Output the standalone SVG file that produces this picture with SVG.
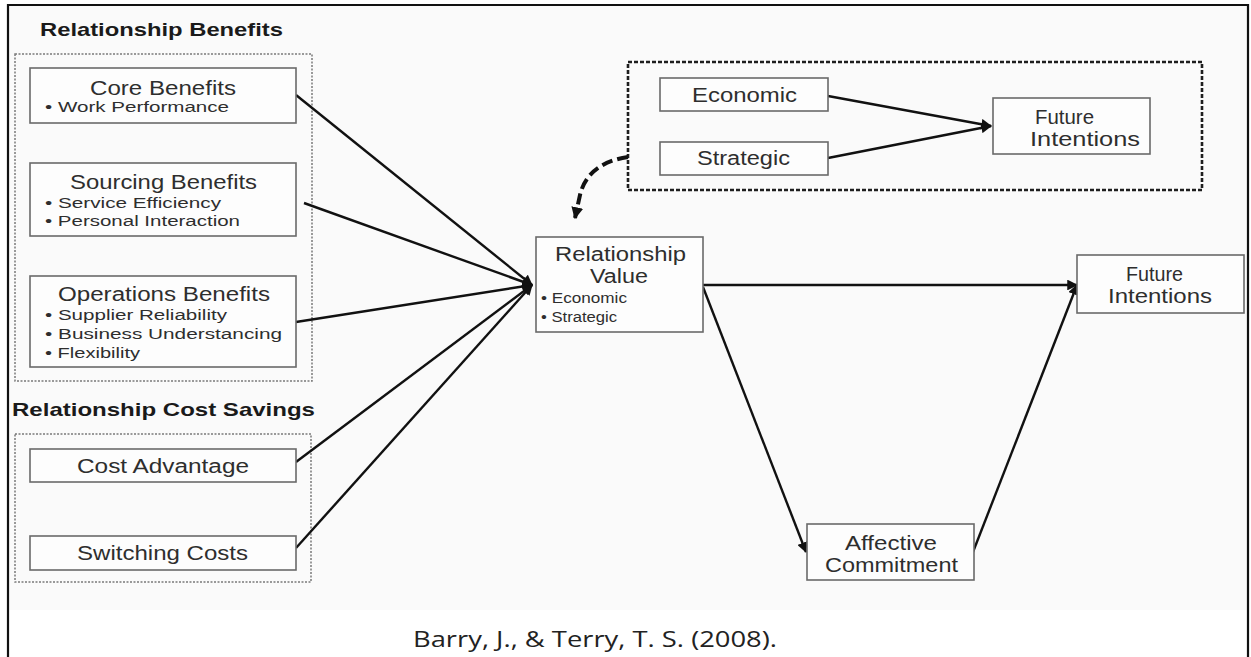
<svg xmlns="http://www.w3.org/2000/svg" width="1251" height="657" viewBox="0 0 1251 657">
  <style>
    text { font-family: "Liberation Sans", Arial, sans-serif; fill: #2e2e2e; }
    .hd { font-weight: bold; font-size: 18.5px; fill: #1a1a1a; }
    .t { font-size: 19.5px; }
    .b { font-size: 15.5px; }
    .box { fill: #fdfdfd; stroke: #6a6a6a; stroke-width: 1.6; }
    .grp { fill: none; stroke: #7a7a7a; stroke-width: 1.5; stroke-dasharray: 2 1.5; }
    .grp2 { fill: none; stroke: #1e1e1e; stroke-width: 2.6; stroke-dasharray: 4 2; }
    .edge { fill: none; stroke: #111; stroke-width: 2.4; marker-end: url(#ah); }
    .cap { font-family: "Open Sans", "Liberation Sans", sans-serif; font-size: 22px; fill: #222; }
  </style>
  <defs>
    <marker id="ah" viewBox="0 0 10 10" refX="9" refY="5" markerWidth="4.5" markerHeight="4.5" orient="auto" markerUnits="strokeWidth">
      <path d="M0,0 L10,5 L0,10 z" fill="#111"/>
    </marker>
    <marker id="ah2" viewBox="0 0 10 10" refX="9" refY="5" markerWidth="3" markerHeight="3" orient="auto" markerUnits="strokeWidth">
      <path d="M0,0 L10,5 L0,10 z" fill="#111"/>
    </marker>
  </defs>

  <!-- page -->
  <rect x="0" y="0" width="1251" height="657" fill="#ffffff"/>
  <rect x="8" y="5" width="1240" height="605" fill="#fafafa"/>
  <path d="M8,657 V5 H1248 V657" fill="none" stroke="#111" stroke-width="2.2"/>

  <!-- group frames -->
  <g id="benefits-group">
    <text class="hd" x="40" y="36" textLength="243" lengthAdjust="spacingAndGlyphs">Relationship Benefits</text>
    <rect class="grp" x="15" y="54" width="297" height="327"/>
  </g>
  <g id="cost-savings-group">
    <text class="hd" x="12" y="416" textLength="303" lengthAdjust="spacingAndGlyphs">Relationship Cost Savings</text>
    <rect class="grp" x="15" y="434" width="296" height="148"/>
  </g>
  <g id="value-group">
    <rect class="grp2" x="628" y="62" width="574" height="128"/>
  </g>

  <!-- connectors -->
  <g id="connectors">
    <path class="edge" d="M296,95 L532,285"/>
    <path class="edge" d="M304,203 L532,285"/>
    <path class="edge" d="M296,322 L532,285"/>
    <path class="edge" d="M296,462 L532,285"/>
    <path class="edge" d="M296,548 L532,285"/>
    <path class="edge" d="M828,96 L991,126"/>
    <path class="edge" d="M828,158 L991,126"/>
    <path class="edge" d="M703,285 L1077,285"/>
    <path class="edge" d="M703,287 L806,552"/>
    <path class="edge" d="M973,552 L1077,285"/>
    <path d="M628,157 C601,161 585,174 580,195 L575,218" fill="none" stroke="#111" stroke-width="4" stroke-dasharray="11 5" marker-end="url(#ah2)"/>
  </g>

  <!-- nodes -->
  <g id="core-benefits">
    <rect class="box" x="30" y="68" width="266" height="55"/>
    <text class="t" x="90" y="95" textLength="146" lengthAdjust="spacingAndGlyphs">Core Benefits</text>
    <text class="b" x="45" y="112" textLength="184" lengthAdjust="spacingAndGlyphs">• Work Performance</text>
  </g>
  <g id="sourcing-benefits">
    <rect class="box" x="30" y="163" width="266" height="73"/>
    <text class="t" x="70" y="189" textLength="187" lengthAdjust="spacingAndGlyphs">Sourcing Benefits</text>
    <text class="b" x="45" y="208" textLength="176" lengthAdjust="spacingAndGlyphs">• Service Efficiency</text>
    <text class="b" x="45" y="226" textLength="195" lengthAdjust="spacingAndGlyphs">• Personal Interaction</text>
  </g>
  <g id="operations-benefits">
    <rect class="box" x="30" y="276" width="266" height="91"/>
    <text class="t" x="58" y="301" textLength="212" lengthAdjust="spacingAndGlyphs">Operations Benefits</text>
    <text class="b" x="45" y="320" textLength="182" lengthAdjust="spacingAndGlyphs">• Supplier Reliability</text>
    <text class="b" x="45" y="339" textLength="237" lengthAdjust="spacingAndGlyphs">• Business Understancing</text>
    <text class="b" x="45" y="358" textLength="95" lengthAdjust="spacingAndGlyphs">• Flexibility</text>
  </g>
  <g id="cost-advantage">
    <rect class="box" x="30" y="449" width="266" height="33"/>
    <text class="t" x="77" y="473" textLength="172" lengthAdjust="spacingAndGlyphs">Cost Advantage</text>
  </g>
  <g id="switching-costs">
    <rect class="box" x="30" y="536" width="266" height="34"/>
    <text class="t" x="77" y="560" textLength="171" lengthAdjust="spacingAndGlyphs">Switching Costs</text>
  </g>
  <g id="economic">
    <rect class="box" x="660" y="78" width="168" height="33"/>
    <text class="t" x="692" y="102" textLength="105" lengthAdjust="spacingAndGlyphs">Economic</text>
  </g>
  <g id="strategic">
    <rect class="box" x="660" y="142" width="168" height="33"/>
    <text class="t" x="697" y="165" textLength="93" lengthAdjust="spacingAndGlyphs">Strategic</text>
  </g>
  <g id="future-intentions-top">
    <rect class="box" x="993" y="98" width="157" height="56"/>
    <text class="t" x="1035" y="124" textLength="59" lengthAdjust="spacingAndGlyphs">Future</text>
    <text class="t" x="1030" y="146" textLength="110" lengthAdjust="spacingAndGlyphs">Intentions</text>
  </g>
  <g id="relationship-value">
    <rect class="box" x="536" y="237" width="167" height="95"/>
    <text class="t" x="555" y="261" textLength="131" lengthAdjust="spacingAndGlyphs">Relationship</text>
    <text class="t" x="590" y="283" textLength="58" lengthAdjust="spacingAndGlyphs">Value</text>
    <text class="b" x="541" y="303" textLength="86" lengthAdjust="spacingAndGlyphs">• Economic</text>
    <text class="b" x="541" y="322" textLength="76" lengthAdjust="spacingAndGlyphs">• Strategic</text>
  </g>
  <g id="future-intentions-right">
    <rect class="box" x="1077" y="255" width="167" height="58"/>
    <text class="t" x="1126" y="281" textLength="57" lengthAdjust="spacingAndGlyphs">Future</text>
    <text class="t" x="1108" y="303" textLength="104" lengthAdjust="spacingAndGlyphs">Intentions</text>
  </g>
  <g id="affective-commitment">
    <rect class="box" x="807" y="524" width="167" height="56"/>
    <text class="t" x="845" y="550" textLength="92" lengthAdjust="spacingAndGlyphs">Affective</text>
    <text class="t" x="825" y="572" textLength="133" lengthAdjust="spacingAndGlyphs">Commitment</text>
  </g>

  <!-- citation -->
  <text class="cap" x="413" y="647" textLength="364" lengthAdjust="spacingAndGlyphs">Barry, J., &amp; Terry, T. S. (2008).</text>
</svg>
